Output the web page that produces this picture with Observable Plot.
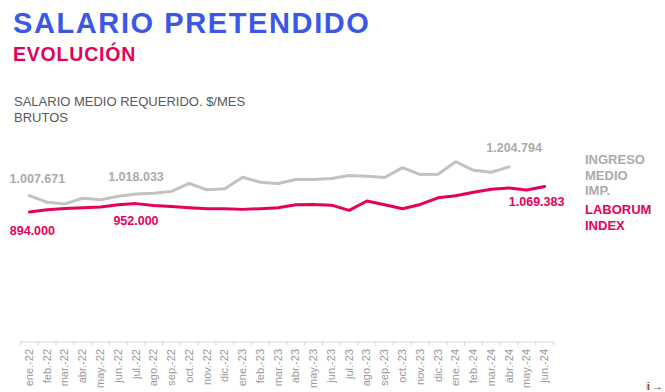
<!DOCTYPE html>
<html>
<head>
<meta charset="utf-8">
<script src="https://cdn.jsdelivr.net/npm/d3@7"></script>
<script src="https://cdn.jsdelivr.net/npm/@observablehq/plot@0.6"></script>
<style>
  html, body { margin: 0; padding: 0; background: #fff; overflow: hidden; }
  body { width: 665px; height: 392px; position: relative; font-family: "Liberation Sans", Arial, sans-serif; }
  .abs { position: absolute; white-space: nowrap; }
  #title { left: 13px; top: 8.5px; font-size: 29px; line-height: 29px; font-weight: bold; color: #3b57e6; letter-spacing: 1.6px; }
  #sub { left: 13px; top: 45px; font-size: 19.5px; line-height: 19.5px; font-weight: bold; color: #e6005a; letter-spacing: 0.8px; }
  #note { left: 14px; top: 94px; font-size: 13px; line-height: 15.5px; color: #595959; }
  .leg { left: 585px; font-size: 13px; line-height: 15.5px; font-weight: bold; }
  #leg1 { top: 152px; color: #ababab; }
  #leg2 { top: 202px; color: #e6005a; }
  #chart { position: absolute; left: 0; top: 0; width: 665px; height: 392px; overflow: hidden; }
  #chart svg { display: block; }
</style>
</head>
<body>
<div id="chart"></div>
<div class="abs" id="title">SALARIO PRETENDIDO</div>
<div class="abs" id="sub">EVOLUCIÓN</div>
<div class="abs" id="note">SALARIO MEDIO REQUERIDO. $/MES<br>BRUTOS</div>
<div class="abs leg" id="leg1">INGRESO<br>MEDIO<br>IMP.</div>
<div class="abs leg" id="leg2">LABORUM<br>INDEX</div>
<script>
const months = ["ene.-22","feb.-22","mar.-22","abr.-22","may.-22","jun.-22","jul.-22","ago.-22","sep.-22","oct.-22","nov.-22","dic.-22",
  "ene.-23","feb.-23","mar.-23","abr.-23","may.-23","jun.-23","jul.-23","ago.-23","sep.-23","oct.-23","nov.-23","dic.-23",
  "ene.-24","feb.-24","mar.-24","abr.-24","may.-24","jun.-24"];

// Ingreso medio imponible (ene.-22 .. abr.-24)
const ingreso = [1007671, 961400, 949900, 988600, 979100, 1002200, 1018033, 1022600, 1036200, 1090600, 1047100, 1053900,
  1133500, 1099500, 1090600, 1117800, 1117800, 1124600, 1145000, 1140300, 1131400, 1199400, 1151800, 1154000,
  1240200, 1181100, 1167500, 1204794];

// Laborum index (ene.-22 .. jun.-24)
const laborum = [894000, 910300, 919200, 923900, 928000, 944300, 952000, 939600, 932800, 923900, 917100, 917100,
  912400, 917100, 923900, 944300, 946400, 941600, 905600, 970000, 944300, 917100, 946400, 991900,
  1005500, 1030000, 1050400, 1059900, 1046300, 1069383];

const fmt = v => d3.format(",")(v).replace(/,/g, ".");

const ingData = ingreso.map((v, i) => ({i: i + 0.5, v}));
const labData = laborum.map((v, i) => ({i: i + 0.5, v}));
const pick = (arr, idx) => arr.filter((d, k) => k === idx);

const gray = "#c2c2c2", grayText = "#ababab", pink = "#e6005a";
const lblStyle = {x: "i", y: "v", text: d => fmt(d.v), fontSize: 12.5, fontWeight: "bold", fontFamily: "Liberation Sans, Arial, sans-serif"};

const chart = Plot.plot({
  width: 665,
  height: 392,
  marginLeft: 20,
  marginRight: 112,
  marginTop: 138,
  marginBottom: 50.5,
  style: {fontFamily: "Liberation Sans, Arial, sans-serif", background: "transparent"},
  x: {type: "linear", domain: [0, months.length], axis: null},
  y: {domain: [0, 1400000], axis: null},
  marks: [
    Plot.ruleY([0], {stroke: "#d6d6d6"}),
    Plot.axisX(d3.range(months.length + 1), {tickSize: 4, stroke: "#d6d6d6", tickFormat: () => ""}),
    Plot.axisX(d3.range(months.length).map(i => i + 0.5), {
      tickSize: 0, tickPadding: 7, tickRotate: -90, fontSize: 11, fill: "#999",
      tickFormat: d => months[Math.floor(d)]
    }),
    Plot.line(ingData, {x: "i", y: "v", stroke: gray, strokeWidth: 3, curve: "linear"}),
    Plot.line(labData, {x: "i", y: "v", stroke: pink, strokeWidth: 3, curve: "linear"}),
    Plot.text(pick(ingData, 0), {...lblStyle, fill: grayText, dx: 8, dy: -17}),
    Plot.text(pick(ingData, 6), {...lblStyle, fill: grayText, dy: -17}),
    Plot.text(pick(ingData, 27), {...lblStyle, fill: grayText, dx: 5, dy: -19}),
    Plot.text(pick(labData, 0), {...lblStyle, fill: pink, dx: 3, dy: 19}),
    Plot.text(pick(labData, 6), {...lblStyle, fill: pink, dy: 17.5}),
    Plot.text(pick(labData, 29), {...lblStyle, fill: pink, dx: -8, dy: 15})
  ]
});
document.getElementById("chart").appendChild(chart);
</script>
</body>
</html>
